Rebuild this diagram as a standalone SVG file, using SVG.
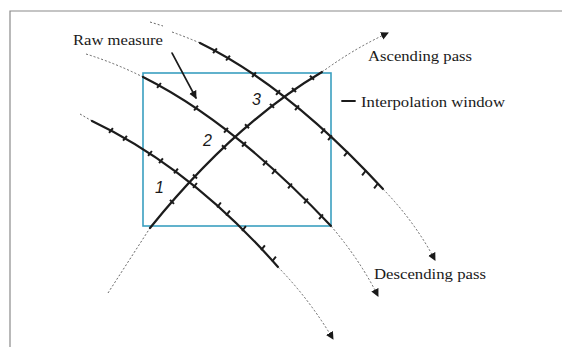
<svg xmlns="http://www.w3.org/2000/svg" width="562" height="347" viewBox="0 0 562 347">
<defs>
<style>
.frame{fill:none;stroke:#8a8a8a;stroke-width:1.2}
.win{fill:none;stroke:#3a9fc0;stroke-width:1.6}
.pass{fill:none;stroke:#1c1c1c;stroke-width:2.2;stroke-linecap:round}
.dot{fill:none;stroke:#555;stroke-width:0.9;stroke-dasharray:2 2}
.tick{fill:none;stroke:#1c1c1c;stroke-width:2}
.lbl{font-family:"Liberation Serif","Times New Roman",serif;font-size:15px;fill:#1a1a1a}
.num{font-family:"Liberation Sans",Arial,sans-serif;font-style:italic;font-size:16px;fill:#1a1a1a}
</style>
<marker id="ah" markerWidth="10" markerHeight="10" refX="7" refY="4" orient="auto" markerUnits="userSpaceOnUse">
<path d="M0,0 L8,4 L0,8 Z" fill="#1a1a1a"/>
</marker>
</defs>
<g id="frame">
<path class="frame" d="M10,347 L10,11 L562,11"/>
</g>
<g id="interpolation-window">
<rect class="win" x="143" y="73" width="188" height="153"/>
</g>
<g id="connectors">
<!-- ascending pass -->
<path class="dot" d="M108,293 L150,228"/>
<path class="pass" d="M150,228 Q234,124 322,72"/>
<path class="dot" d="M322,72 Q355,48 388,33" marker-end="url(#ah)"/>
<!-- descending pass A -->
<path class="dot" d="M80,114 L92,121"/>
<path class="pass" d="M92,121 Q191,168 278,267"/>
<path class="dot" d="M278,267 Q310,300 333,339" marker-end="url(#ah)"/>
<!-- descending pass B -->
<path class="dot" d="M86,54 Q115,63 143,77"/>
<path class="pass" d="M143,77 Q233,122 331,226"/>
<path class="dot" d="M331,226 Q360,260 378,296" marker-end="url(#ah)"/>
<!-- descending pass C -->
<path class="dot" d="M150,22 L163,26 M172,32 Q186,37 200,43"/>
<path class="pass" d="M200,43 Q288,86 383,189"/>
<path class="dot" d="M383,189 Q415,222 435,260" marker-end="url(#ah)"/>
<!-- raw measure pointer -->
<path class="pass" style="stroke-width:1.6" d="M172,53 L196,98" marker-end="url(#ah)"/>
<!-- interpolation window pointer -->
<path class="pass" style="stroke-width:1.8" d="M342,101 L355,101"/>
</g>
<g id="raw-measures">
<path class="tick" d="M213.1,53.1 l3.8,-4.8 M226.1,60.5 l3.8,-4.8 M252.1,77.2 l3.8,-4.8 M276.1,94.9 l3.8,-4.8 M295.1,110.1 l3.8,-4.8 M321.1,133.3 l3.8,-4.8 M328.1,140.2 l3.8,-4.8 M344.1,156.2 l3.8,-4.8 M362.1,175.3 l3.8,-4.8 M374.1,188.3 l3.8,-4.8"/>
<path class="tick" d="M157.1,87.8 l3.8,-4.8 M194.1,110.5 l3.8,-4.8 M224.1,132.6 l3.8,-4.8 M242.1,146.7 l3.8,-4.8 M263.1,165.4 l3.8,-4.8 M272.1,174 l3.8,-4.8 M288.1,188.3 l3.8,-4.8 M304.1,203.4 l3.8,-4.8 M319.1,219.2 l3.8,-4.8"/>
<path class="tick" d="M109.1,132.9 l3.8,-4.8 M123.1,140.7 l3.8,-4.8 M148.1,155.8 l3.8,-4.8 M159.1,163.1 l3.8,-4.8 M174.1,173.4 l3.8,-4.8 M193.1,187.8 l3.8,-4.8 M217.1,207.3 l3.8,-4.8 M226.1,215.5 l3.8,-4.8 M242.1,231 l3.8,-4.8 M261.1,250.1 l3.8,-4.8 M272.1,261.5 l3.8,-4.8"/>
<path class="tick" d="M170,199.9 l4,4 M193,174.5 l4,4 M222,145.3 l4,4 M245,124.3 l4,4 M270,103.9 l4,4 M292,88 l4,4 M310,75.8 l4,4"/>
</g>
<g id="labels">
<text class="lbl" x="73" y="45" textLength="90" lengthAdjust="spacingAndGlyphs">Raw measure</text>
<text class="lbl" x="368" y="61" textLength="104" lengthAdjust="spacingAndGlyphs">Ascending pass</text>
<text class="lbl" x="361" y="107" textLength="144" lengthAdjust="spacingAndGlyphs">Interpolation window</text>
<text class="lbl" x="374" y="279" textLength="112" lengthAdjust="spacingAndGlyphs">Descending pass</text>
<text class="num" x="252" y="105">3</text>
<text class="num" x="203" y="146">2</text>
<text class="num" x="155" y="193">1</text>
</g>
</svg>
